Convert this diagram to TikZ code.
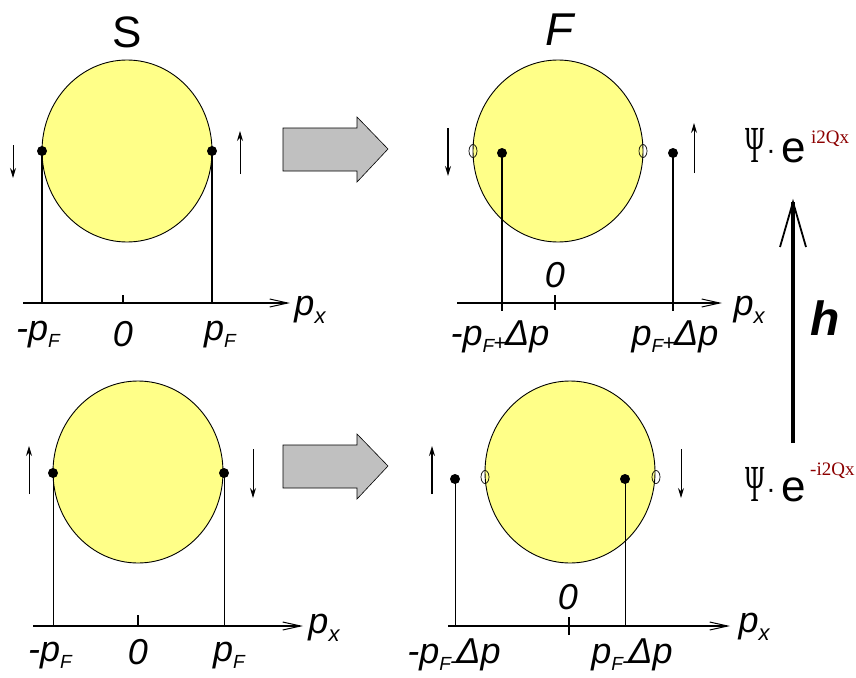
\documentclass[tikz,border=0pt]{standalone}
\usepackage{fontspec}
\setmainfont{Liberation Serif}
\setsansfont{Liberation Sans}
\usetikzlibrary{shapes.geometric,arrows.meta}
\definecolor{fermiyellow}{RGB}{255,255,136}
\definecolor{arrowgray}{RGB}{192,192,192}
\definecolor{expred}{RGB}{140,0,0}
\newcommand{\lowF}{\raisebox{-7pt}{\fontsize{19}{19}\selectfont F}}
\newcommand{\lowx}{\raisebox{-8pt}{\fontsize{22}{22}\selectfont x}}
\newcommand{\smallop}[1]{\kern-1pt\raisebox{-5pt}{\fontsize{22}{22}\selectfont #1}\kern-1pt}
\newcommand{\psie}{\scalebox{0.5}[1]{\fontsize{52}{52}\selectfont Ψ}\kern2pt{\sffamily\fontsize{28}{28}\selectfont\raisebox{3pt}{·}}\kern6pt{\sffamily\fontsize{44}{44}\selectfont e}}
\begin{document}
\begin{tikzpicture}[x=1pt,y=-1pt,
  fermi/.style={ellipse, draw=black, fill=fermiyellow, line width=0.9pt, minimum width=170pt, minimum height=182pt, inner sep=0pt},
  dot/.style={circle, fill=black, inner sep=0pt, minimum size=10pt},
  hole/.style={ellipse, draw=black, line width=0.7pt, inner sep=0pt, minimum width=8pt, minimum height=13pt},
  axisT/.style={line width=1.4pt, -{Straight Barb[length=18pt,width=8pt,line width=1pt]}},
  axisB/.style={line width=1.1pt, -{Straight Barb[length=18pt,width=8pt,line width=1pt]}},
  stemT/.style={line width=1.6pt},
  stemB/.style={line width=0.8pt},
  tickmark/.style={line width=1.4pt},
  spin/.style={line width=0.9pt, -{Stealth[length=10pt,width=6pt]}},
  lbl/.style={font=\sffamily\itshape\fontsize{36}{36}\selectfont, inner sep=0pt},
  title/.style={font=\sffamily\fontsize{44}{44}\selectfont, inner sep=0pt},
  bigarrow/.style={draw=black, fill=arrowgray, line width=0.6pt},
  psi/.style={inner sep=0pt, anchor=base west},
  expo/.style={inner sep=0pt, anchor=base west, text=expred, font=\fontsize{19}{19}\selectfont},
]
\fill[white] (0,0) rectangle (856,677);
\useasboundingbox (0,0) rectangle (856,677);

% ---------------- top left (S) ----------------
\node[title] (S) at (127,32) {S};
\node[fermi] (c1) at (127,151) {};
\coordinate (a1s) at (23,303); \coordinate (a1e) at (290,303);
\draw[axisT] (a1s) -- (a1e);
\coordinate (t1a) at (123,295); \coordinate (t1b) at (123,303);
\draw[tickmark] (t1a) -- (t1b);
\node[dot] (d1l) at (42,151) {};
\node[dot] (d1r) at (212,151) {};
\coordinate (f1l) at (42,303); \coordinate (f1r) at (212,303);
\draw[stemT] (d1l.center) -- (f1l);
\draw[stemT] (d1r.center) -- (f1r);
\coordinate (s1a) at (13,145); \coordinate (s1b) at (13,178);
\draw[spin] (s1a) -- (s1b);
\coordinate (s1c) at (240,174); \coordinate (s1d) at (240,131);
\draw[spin] (s1c) -- (s1d);
\node[lbl] (l1a) at (38,335) {-p\lowF};
\node[lbl] (l1b) at (123,334) {0};
\node[lbl] (l1c) at (220,335) {p\lowF};
\node[lbl] (l1d) at (310,310) {p\lowx};

% ---------------- top arrow ----------------
\coordinate (g1a) at (283,128); \coordinate (g1b) at (357,128);
\coordinate (g1c) at (357,117); \coordinate (g1d) at (388,149);
\coordinate (g1e) at (357,182); \coordinate (g1f) at (357,171);
\coordinate (g1g) at (283,171);
\draw[bigarrow] (g1a) -- (g1b) -- (g1c) -- (g1d) -- (g1e) -- (g1f) -- (g1g) -- cycle;

% ---------------- top right (F) ----------------
\node[title, font=\sffamily\itshape\fontsize{46}{46}\selectfont] (F) at (560,30) {F};
\node[fermi] (c2) at (558,151) {};
\coordinate (a2s) at (457,303); \coordinate (a2e) at (722,303);
\draw[axisT] (a2s) -- (a2e);
\coordinate (t2a) at (555,295); \coordinate (t2b) at (555,310);
\draw[tickmark] (t2a) -- (t2b);
\node[hole] (h2l) at (473,151) {};
\node[hole] (h2r) at (643,151) {};
\node[dot] (d2l) at (502,153) {};
\node[dot] (d2r) at (673,153) {};
\coordinate (f2l) at (502,311); \coordinate (f2r) at (673,311);
\draw[stemT] (d2l.center) -- (f2l);
\draw[stemT] (d2r.center) -- (f2r);
\coordinate (s2a) at (448,128); \coordinate (s2b) at (448,176);
\draw[spin, line width=1.3pt] (s2a) -- (s2b);
\coordinate (s2c) at (694,173); \coordinate (s2d) at (694,123);
\draw[spin] (s2c) -- (s2d);
\node[lbl] (l2b) at (555,275) {0};
\node[lbl] (l2a) at (500,337) {-p\lowF\smallop{+}Δp};
\node[lbl] (l2c) at (675,337) {p\lowF\smallop{+}Δp};
\node[lbl] (l2d) at (749,310) {p\lowx};

% ---------------- right side: exponents and h ----------------
\node[psi] (psiT) at (745,162) {\psie};
\node[expo] (expT) at (811,143) {i2Qx};
\node[psi] (psiB) at (745,501) {\psie};
\node[expo] (expB) at (810,475) {-i2Qx};
\coordinate (hb) at (793,443); \coordinate (ht) at (793,202);
\draw[line width=4.5pt] (hb) -- (ht);
\draw[line width=1.8pt, line join=miter] ([shift={(-13,45)}]ht) -- (ht) -- ([shift={(13,45)}]ht);
\node[inner sep=0pt, font=\sffamily\bfseries\itshape\fontsize{48}{48}\selectfont] (h) at (825,318) {h};

% ---------------- bottom left ----------------
\node[fermi] (c3) at (138,472) {};
\coordinate (a3s) at (33,626); \coordinate (a3e) at (303,626);
\draw[axisB] (a3s) -- (a3e);
\coordinate (t3a) at (138,615); \coordinate (t3b) at (138,626);
\draw[tickmark] (t3a) -- (t3b);
\node[dot] (d3l) at (53,473) {};
\node[dot] (d3r) at (224,473) {};
\coordinate (f3l) at (53,626); \coordinate (f3r) at (224,626);
\draw[stemB] (d3l.center) -- (f3l);
\draw[stemB] (d3r.center) -- (f3r);
\coordinate (s3a) at (29,494); \coordinate (s3b) at (29,446);
\draw[spin] (s3a) -- (s3b);
\coordinate (s3c) at (253,449); \coordinate (s3d) at (253,498);
\draw[spin] (s3c) -- (s3d);
\node[lbl] (l3a) at (50,656) {-p\lowF};
\node[lbl] (l3b) at (138,652) {0};
\node[lbl] (l3c) at (229,656) {p\lowF};
\node[lbl] (l3d) at (324,628) {p\lowx};

% ---------------- bottom arrow ----------------
\coordinate (g2a) at (283,445); \coordinate (g2b) at (357,445);
\coordinate (g2c) at (357,434); \coordinate (g2d) at (388,466);
\coordinate (g2e) at (357,499); \coordinate (g2f) at (357,488);
\coordinate (g2g) at (283,488);
\draw[bigarrow] (g2a) -- (g2b) -- (g2c) -- (g2d) -- (g2e) -- (g2f) -- (g2g) -- cycle;

% ---------------- bottom right ----------------
\node[fermi] (c4) at (570,472) {};
\coordinate (a4s) at (448,626); \coordinate (a4e) at (730,626);
\draw[axisB] (a4s) -- (a4e);
\coordinate (t4a) at (569,617); \coordinate (t4b) at (569,635);
\draw[tickmark, line width=2pt] (t4a) -- (t4b);
\node[hole] (h4l) at (485,477) {};
\node[hole] (h4r) at (656,477) {};
\node[dot] (d4l) at (455,479) {};
\node[dot] (d4r) at (625,479) {};
\coordinate (f4l) at (455,626); \coordinate (f4r) at (625,626);
\draw[stemB] (d4l.center) -- (f4l);
\draw[stemB] (d4r.center) -- (f4r);
\coordinate (s4a) at (432,494); \coordinate (s4b) at (432,446);
\draw[spin, line width=1.3pt] (s4a) -- (s4b);
\coordinate (s4c) at (681,449); \coordinate (s4d) at (681,498);
\draw[spin] (s4c) -- (s4d);
\node[lbl] (l4b) at (568,597) {0};
\node[lbl] (l4a) at (454,655) {-p\lowF\smallop{-}Δp};
\node[lbl] (l4c) at (632,655) {p\lowF\smallop{-}Δp};
\node[lbl] (l4d) at (754,627) {p\lowx};
\end{tikzpicture}
\end{document}
